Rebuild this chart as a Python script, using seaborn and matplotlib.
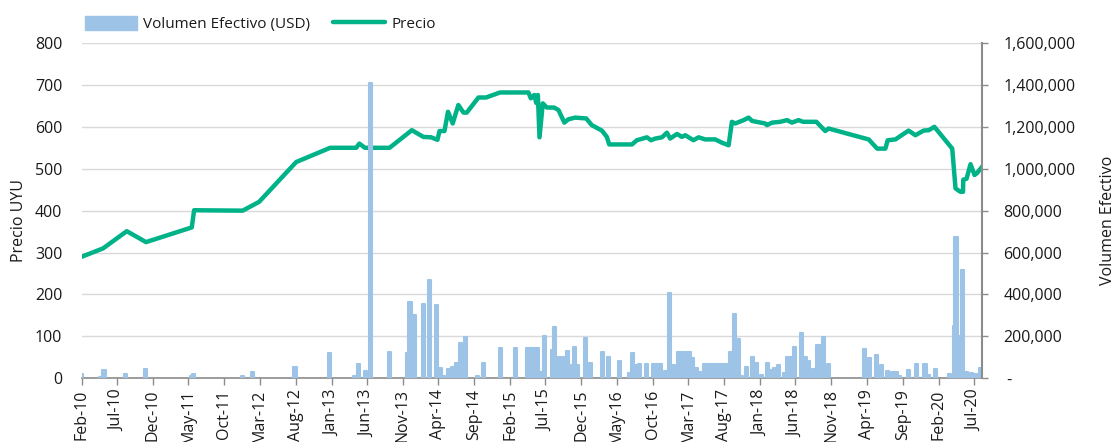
import pandas as pd
import numpy as np
import seaborn as sns
import matplotlib.pyplot as plt
import matplotlib.dates as mdates
from matplotlib.ticker import FuncFormatter, MultipleLocator
from matplotlib.lines import Line2D
from matplotlib.patches import Patch

# Precio UYU (left axis)
price_dates = ["2010-02-01", "2010-05-03", "2010-08-12", "2010-11-02", "2011-05-16", "2011-05-26",
               "2011-12-19", "2012-02-27", "2012-08-03", "2012-12-26", "2013-04-16", "2013-04-29",
               "2013-05-23", "2013-09-05", "2013-12-09", "2014-01-27", "2014-03-01", "2014-03-28",
               "2014-04-06", "2014-04-27", "2014-05-12", "2014-06-01", "2014-06-25", "2014-07-17",
               "2014-07-31", "2014-09-19", "2014-10-21", "2014-12-20", "2015-04-20", "2015-04-30",
               "2015-05-15", "2015-05-23", "2015-05-30", "2015-06-06", "2015-06-20", "2015-07-07",
               "2015-08-07", "2015-08-26", "2015-09-20", "2015-10-07", "2015-11-05", "2015-12-22",
               "2016-01-15", "2016-02-27", "2016-03-19", "2016-03-29", "2016-07-04", "2016-07-25",
               "2016-09-06", "2016-09-23", "2016-10-11", "2016-11-09", "2016-11-30", "2016-12-14",
               "2017-01-12", "2017-02-02", "2017-02-16", "2017-03-23", "2017-04-14", "2017-05-12",
               "2017-06-24", "2017-07-23", "2017-08-20", "2017-09-03", "2017-09-17", "2017-10-23",
               "2017-11-13", "2017-11-28", "2018-01-23", "2018-01-30", "2018-02-21", "2018-03-28",
               "2018-04-26", "2018-05-17", "2018-06-14", "2018-07-03", "2018-08-29", "2018-09-22",
               "2018-10-06", "2018-10-20", "2019-03-26", "2019-04-09", "2019-05-15", "2019-06-19",
               "2019-06-29", "2019-08-01", "2019-08-22", "2019-09-26", "2019-10-25", "2019-11-29",
               "2019-12-21", "2020-01-14", "2020-03-30", "2020-04-13", "2020-05-04", "2020-05-15",
               "2020-05-16", "2020-05-30", "2020-06-16", "2020-07-03", "2020-07-14", "2020-08-06"]
price_values = [290, 310, 351, 325, 360, 401, 400, 421, 516, 550,
                550, 560, 550, 550, 592, 576, 575, 569, 590, 590,
                636, 608, 652, 634, 634, 670, 670, 682, 682, 668,
                676, 657, 676, 575, 656, 646, 646, 640, 610, 618,
                622, 620, 604, 591, 576, 558, 558, 568, 575, 568,
                572, 575, 586, 572, 583, 576, 580, 568, 575, 570,
                570, 562, 556, 612, 608, 616, 622, 614, 608, 604,
                610, 612, 616, 610, 616, 612, 612, 598, 590, 596,
                572, 570, 548, 548, 568, 570, 578, 591, 580, 591,
                592, 600, 548, 453, 445, 445, 474, 476, 511, 485,
                490, 506]

# Volumen Efectivo (USD) (right axis)
vol_dates = ["2010-02-02", "2010-04-20", "2010-05-07", "2010-08-08", "2010-10-30", "2011-05-16",
             "2011-05-25", "2011-12-17", "2012-01-29", "2012-07-29", "2012-12-23", "2013-04-09",
             "2013-04-26", "2013-05-24", "2013-06-16", "2013-09-06", "2013-11-20", "2013-12-01",
             "2013-12-21", "2014-01-26", "2014-02-24", "2014-03-23", "2014-04-09", "2014-04-24",
             "2014-05-14", "2014-06-02", "2014-06-19", "2014-07-05", "2014-07-26", "2014-09-15",
             "2014-10-11", "2014-12-22", "2015-02-25", "2015-04-18", "2015-05-01", "2015-05-16",
             "2015-05-30", "2015-06-14", "2015-06-28", "2015-07-30", "2015-08-07", "2015-08-28",
             "2015-09-15", "2015-10-03", "2015-10-13", "2015-11-04", "2015-11-15", "2015-12-20",
             "2016-01-11", "2016-02-28", "2016-03-28", "2016-05-10", "2016-06-22", "2016-07-05",
             "2016-07-20", "2016-08-07", "2016-09-05", "2016-10-06", "2016-10-21", "2016-11-04",
             "2016-11-22", "2016-12-10", "2016-12-28", "2017-01-18", "2017-02-03", "2017-02-20",
             "2017-03-07", "2017-03-21", "2017-04-05", "2017-04-22", "2017-05-10", "2017-05-27",
             "2017-06-14", "2017-06-30", "2017-07-14", "2017-07-31", "2017-08-15", "2017-08-30",
             "2017-09-14", "2017-10-01", "2017-10-15", "2017-11-06", "2017-12-01", "2017-12-18",
             "2018-01-09", "2018-02-02", "2018-02-20", "2018-03-05", "2018-03-22", "2018-04-14",
             "2018-04-27", "2018-05-12", "2018-05-29", "2018-06-27", "2018-07-14", "2018-07-28",
             "2018-08-16", "2018-09-02", "2018-09-11", "2018-09-28", "2018-10-19", "2019-03-23",
             "2019-04-14", "2019-05-12", "2019-06-03", "2019-06-29", "2019-07-18", "2019-08-06",
             "2019-08-20", "2019-09-25", "2019-10-30", "2019-12-05", "2019-12-19", "2020-01-17",
             "2020-03-20", "2020-04-07", "2020-04-15", "2020-04-29", "2020-05-12", "2020-05-30",
             "2020-06-21", "2020-07-09", "2020-07-30"]
vol_values = [20000, 5000, 40000, 20000, 44000, 10000, 20000, 10000, 30000, 55000,
              119000, 13000, 67000, 36000, 1410000, 124000, 122000, 363000, 302000, 355000,
              470000, 350000, 51000, 10000, 43000, 55000, 75000, 167000, 199000, 10000,
              75000, 143000, 143000, 146000, 146000, 146000, 146000, 32000, 202000, 135000,
              246000, 103000, 100000, 132000, 64000, 151000, 64000, 194000, 72000, 127000,
              103000, 83000, 27000, 122000, 64000, 67000, 67000, 67000, 67000, 67000,
              36000, 409000, 64000, 127000, 127000, 127000, 127000, 96000, 50000, 32000,
              67000, 67000, 67000, 67000, 67000, 67000, 67000, 127000, 307000, 186000,
              10000, 55000, 100000, 72000, 15000, 72000, 40000, 50000, 62000, 27000,
              100000, 100000, 148000, 215000, 103000, 83000, 45000, 159000, 159000, 199000,
              67000, 140000, 96000, 111000, 64000, 36000, 29000, 29000, 12000, 40000,
              67000, 67000, 15000, 43000, 22000, 250000, 673000, 200000, 517000, 32000,
              27000, 22000, 51000]

price = pd.DataFrame({"fecha": pd.to_datetime(price_dates), "precio": price_values})
vol = pd.DataFrame({"fecha": pd.to_datetime(vol_dates), "volumen": vol_values})

green = "#00B288"
blue = "#9DC3E6"
txt = "#1a1a1a"

sns.set_style("white")
plt.rcParams["font.family"] = ["Open Sans", "DejaVu Sans"]
plt.rcParams["font.size"] = 11.5

fig = plt.figure(figsize=(11.18, 4.42), dpi=100)
ax = fig.add_axes([0.0731, 0.1441, 0.8057, 0.7586])
ax2 = ax.twinx()

# price line
sns.lineplot(data=price, x="fecha", y="precio", ax=ax, color=green, linewidth=3.2,
             solid_joinstyle="round", solid_capstyle="round", zorder=3)

# volume bars
ax2.bar(vol["fecha"], vol["volumen"], width=13, color=blue, edgecolor=blue,
        linewidth=1.5, joinstyle="round", zorder=2)

ax.set_ylim(0, 800)
ax2.set_ylim(0, 1600000)
ax.yaxis.set_major_locator(MultipleLocator(100))
ax2.yaxis.set_major_locator(MultipleLocator(200000))
ax2.yaxis.set_major_formatter(FuncFormatter(lambda v, p: " -" if v == 0 else f"{v:,.0f}"))

ax.set_xlim(pd.Timestamp("2010-02-01"), pd.Timestamp("2020-08-06"))
ticks = pd.date_range("2010-02-01", "2020-07-01", freq="5MS")
ax.set_xticks(ticks)
ax.xaxis.set_major_formatter(mdates.DateFormatter("%b-%y"))
for lab in ax.get_xticklabels():
    lab.set_rotation(90)

ax.grid(axis="y", color="#D9D9D9", linewidth=1)
ax.grid(axis="x", visible=False)
ax2.grid(False)
ax.set_axisbelow(True)

for a in (ax, ax2):
    for s in ("top", "left"):
        a.spines[s].set_visible(False)
ax.spines["right"].set_visible(False)
ax2.spines["bottom"].set_visible(False)
ax.spines["bottom"].set_color("#8C8C8C")
ax.spines["bottom"].set_linewidth(1.2)
ax2.spines["right"].set_color("#8C8C8C")
ax2.spines["right"].set_linewidth(1.5)

ax.tick_params(axis="x", bottom=True, length=5, width=1, color="#8C8C8C", pad=3, labelcolor=txt)
ax.tick_params(axis="y", left=False, length=0, pad=14, labelcolor=txt)
ax2.tick_params(axis="y", right=True, length=4, width=1, color="#8C8C8C", pad=11, labelcolor=txt)
for lab in ax2.get_yticklabels():
    lab.set_horizontalalignment("left")

ax.set_xlabel("")
ax.set_ylabel("Precio UYU", color=txt)
ax2.set_ylabel("Volumen Efectivo", color=txt)
ax.yaxis.set_label_coords(-0.061, 0.47)
ax2.yaxis.set_label_coords(1.1304, 0.47)

# bars sit above the price axis
ax2.set_zorder(ax.get_zorder() + 1)
ax2.patch.set_visible(False)

handles = [Patch(facecolor=blue, edgecolor=blue), Line2D([0], [0], color=green, linewidth=3.2)]
fig.legend(handles, ["Volumen Efectivo (USD)", "Precio"], loc="upper left",
           bbox_to_anchor=(0.064, 0.995), ncol=2, frameon=False, handlelength=3.4,
           handleheight=1.0, handletextpad=0.4, columnspacing=1.5, labelcolor=txt,
           fontsize=11)

fig.savefig("out.png", dpi=100)
